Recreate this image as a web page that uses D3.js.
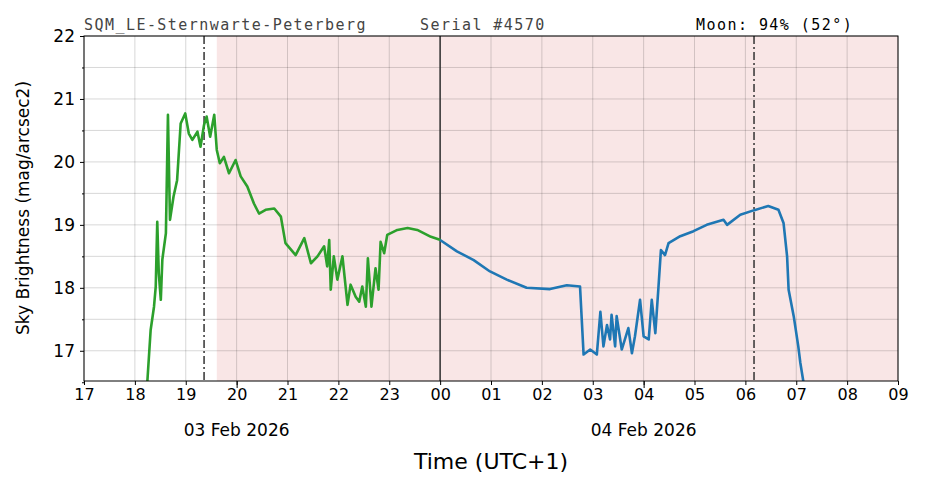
<!DOCTYPE html><html><head><meta charset="utf-8">
<script src="https://cdn.jsdelivr.net/npm/d3@7"></script>
<style>body{margin:0;background:#fff}</style></head><body><svg id="c" width="926" height="488"></svg>
<script>
const hourTicks=[17,18,19,20,21,22,23,24,25,26,27,28,29,30,31,32,33];
const hourLabels=["17","18","19","20","21","22","23","00","01","02","03","04","05","06","07","08","09"];
const yTicks=[17,18,19,20,21,22];
const dateLabels=[{h:20,t:"03 Feb 2026"},{h:28,t:"04 Feb 2026"}];
const greenH=[18.245,18.31,18.376,18.41,18.44,18.47,18.51,18.54,18.61,18.65,18.69,18.76,18.83,18.90,18.99,19.06,19.13,19.23,19.29,19.36,19.41,19.48,19.56,19.61,19.67,19.75,19.85,19.98,20.08,20.21,20.34,20.44,20.57,20.74,20.87,20.96,21.16,21.33,21.46,21.59,21.72,21.78,21.82,21.85,21.91,21.98,22.08,22.18,22.24,22.34,22.41,22.47,22.54,22.58,22.65,22.73,22.79,22.83,22.90,22.96,23.16,23.36,23.55,23.82,24.01];
const greenV=[16.51,17.33,17.70,18.02,19.05,18.23,17.81,18.45,18.87,20.75,19.08,19.45,19.71,20.61,20.77,20.45,20.35,20.48,20.24,20.59,20.72,20.40,20.75,20.19,19.98,20.08,19.82,20.03,19.77,19.61,19.34,19.18,19.24,19.26,19.13,18.71,18.52,18.79,18.39,18.50,18.66,18.34,18.76,17.97,18.50,18.13,18.50,17.73,18.05,17.86,17.78,18.02,17.70,18.47,17.70,18.31,17.97,18.73,18.55,18.84,18.92,18.95,18.92,18.81,18.76];
const blueH=[24.0,24.33,24.66,24.98,25.31,25.70,26.16,26.49,26.75,26.82,26.95,27.08,27.15,27.21,27.28,27.34,27.37,27.44,27.47,27.57,27.70,27.77,27.83,27.93,28.0,28.1,28.16,28.23,28.29,28.34,28.42,28.49,28.72,28.98,29.24,29.57,29.64,29.90,30.16,30.45,30.65,30.75,30.82,30.85,30.95,31.04,31.08,31.14];
const blueV=[18.76,18.58,18.44,18.26,18.13,18.0,17.98,18.04,18.02,16.94,17.02,16.94,17.62,17.07,17.41,17.18,17.57,17.07,17.55,17.02,17.36,16.96,17.23,17.81,17.23,17.18,17.81,17.28,17.99,18.60,18.52,18.71,18.82,18.90,19.0,19.08,19.0,19.16,19.23,19.30,19.24,19.03,18.50,17.97,17.55,17.07,16.81,16.51];
const twilightStart=19.61, sunset=19.36, sunrise=30.17, midnight=24;

const svg=d3.select("#c"), L=84,R=898,T=36,B=381;
const x=d3.scaleLinear().domain([17,33]).range([L,R]);
const y=d3.scaleLinear().domain([16.52,22]).range([B,T]);
svg.append("rect").attr("x",x(twilightStart)).attr("y",T).attr("width",R-x(twilightStart)).attr("height",B-T).attr("fill","#f9e6e6");
const g=svg.append("g");
d3.range(17,22.01,0.5).forEach(v=>g.append("line").attr("x1",L).attr("x2",R).attr("y1",y(v)).attr("y2",y(v)).attr("stroke","#000").attr("stroke-opacity",0.2).attr("stroke-width",0.8));
hourTicks.forEach(h=>g.append("line").attr("x1",x(h)).attr("x2",x(h)).attr("y1",T).attr("y2",B).attr("stroke","#000").attr("stroke-opacity",0.2).attr("stroke-width",0.8));
const vl=(h,da)=>svg.append("line").attr("x1",x(h)).attr("x2",x(h)).attr("y1",T).attr("y2",B).attr("stroke","#333").attr("stroke-width",1.5).attr("stroke-dasharray",da);
vl(sunset,"8,3,2,3");vl(sunrise,"8,3,2,3");vl(midnight,null);
svg.append("clipPath").attr("id","cp").append("rect").attr("x",L).attr("y",T).attr("width",R-L).attr("height",B-T);
const line=d3.line().x(d=>x(d[0])).y(d=>y(d[1]));
svg.append("path").attr("clip-path","url(#cp)").attr("d",line(greenH.map((h,i)=>[h,greenV[i]]))).attr("fill","none").attr("stroke","#2ca02c").attr("stroke-width",2.6).attr("stroke-linejoin","round");
svg.append("path").attr("clip-path","url(#cp)").attr("d",line(blueH.map((h,i)=>[h,blueV[i]]))).attr("fill","none").attr("stroke","#1f77b4").attr("stroke-width",2.6).attr("stroke-linejoin","round");
svg.append("rect").attr("x",L).attr("y",T).attr("width",R-L).attr("height",B-T).attr("fill","none").attr("stroke","#000").attr("stroke-width",1);
const xa=svg.append("g").attr("transform",`translate(0,${B})`).call(d3.axisBottom(x).tickValues(hourTicks).tickFormat((d,i)=>hourLabels[i]).tickSize(4).tickPadding(4));
xa.select(".domain").remove();
xa.selectAll("text").attr("font-family","DejaVu Sans").attr("font-size",16).attr("fill","#000");
svg.append("g").attr("transform",`translate(0,${B})`).call(d3.axisBottom(x).tickValues(dateLabels.map(d=>d.h)).tickFormat("").tickSize(7)).select(".domain").remove();
dateLabels.forEach(d=>svg.append("text").attr("x",x(d.h)).attr("y",436).attr("text-anchor","middle").attr("font-family","DejaVu Sans").attr("font-size",17).text(d.t));
const ya=svg.append("g").attr("transform",`translate(${L},0)`).call(d3.axisLeft(y).tickValues(yTicks).tickFormat(d3.format("d")).tickSize(4).tickPadding(5));
ya.select(".domain").remove();
ya.selectAll("text").attr("font-family","DejaVu Sans").attr("font-size",17).attr("fill","#000");
svg.append("g").attr("transform",`translate(${L},0)`).call(d3.axisLeft(y).tickValues(d3.range(16.5,22,1)).tickFormat("").tickSize(2)).select(".domain").remove();
svg.append("text").attr("transform","translate(29,208) rotate(-90)").attr("text-anchor","middle").attr("font-family","DejaVu Sans").attr("font-size",17).text("Sky Brightness (mag/arcsec2)");
svg.append("text").attr("x",491).attr("y",469).attr("text-anchor","middle").attr("font-family","DejaVu Sans").attr("font-size",22).text("Time (UTC+1)");
const mono=(xx,t,c)=>svg.append("text").attr("x",xx).attr("y",30).attr("font-family","DejaVu Sans Mono").attr("font-size",15).attr("letter-spacing","1.45px").attr("fill",c).text(t);
mono(84,"SQM_LE-Sternwarte-Peterberg","#444");mono(420,"Serial #4570","#444");mono(696,"Moon: 94% (52°)","#000");
</script></body></html>
